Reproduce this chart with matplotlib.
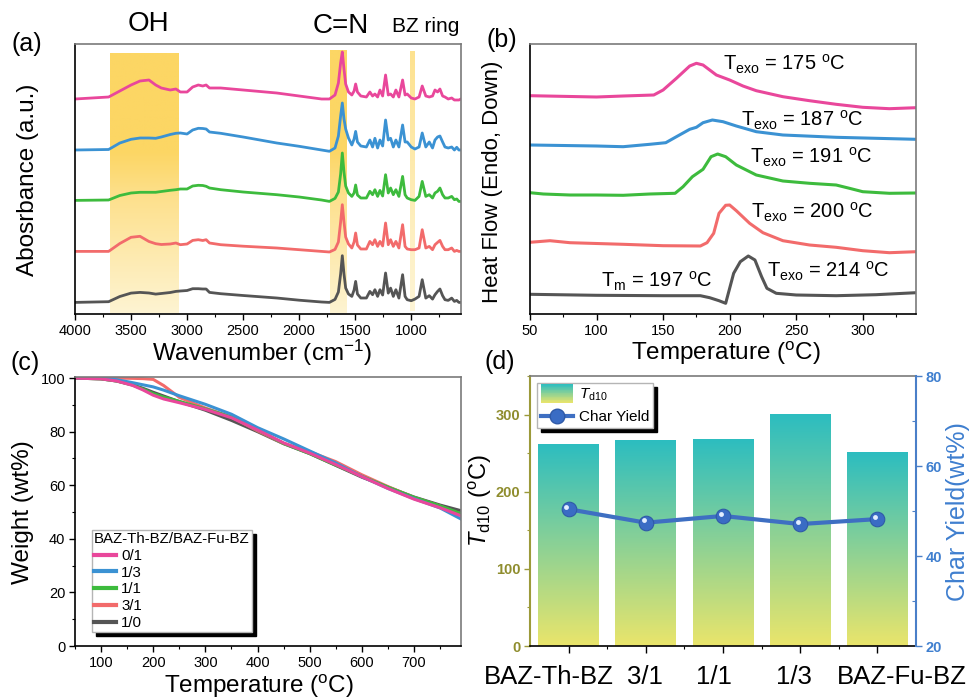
import numpy as np
import matplotlib
matplotlib.use('Agg')
import matplotlib.pyplot as plt
from matplotlib.colors import LinearSegmentedColormap
from matplotlib.patches import Rectangle
from matplotlib.legend_handler import HandlerBase
from matplotlib.lines import Line2D
import matplotlib.transforms as mtransforms
from matplotlib.ticker import MultipleLocator, FixedLocator

plt.rcParams['font.family'] = ['Liberation Sans', 'DejaVu Sans']
plt.rcParams['mathtext.fontset'] = 'custom'
plt.rcParams['mathtext.rm'] = 'Liberation Sans'
plt.rcParams['mathtext.it'] = 'Liberation Sans:italic'
plt.rcParams['mathtext.bf'] = 'Liberation Sans:bold'

# ---------------- (a) FTIR ----------------
wavenumber = [4000, 3700, 3600, 3500, 3420, 3340, 3280, 3230, 3150, 3100,
              3060, 3000, 2950, 2900, 2860, 2830, 2800, 2700, 2500, 2200,
              2000, 1800, 1730, 1680, 1650, 1630, 1615, 1600, 1585, 1560,
              1530, 1510, 1496, 1480, 1450, 1400, 1369, 1345, 1324, 1300,
              1279, 1255, 1229, 1205, 1184, 1160, 1137, 1110, 1077, 1055,
              1036, 1000, 967, 930, 902, 870, 839, 810, 788, 765,
              744, 720, 699, 670, 639, 615, 594, 575, 556]
ftir_01 = [215, 217, 223, 229, 233, 234, 229, 226, 224, 225,
           222, 222, 227, 229, 228, 229, 226, 226, 224, 221,
           218, 215, 215, 219, 231, 251, 262, 245, 230, 222,
           219, 223, 230, 222, 218, 217, 222, 218, 220, 217,
           224, 218, 239, 219, 220, 217, 224, 217, 234, 219,
           220, 216, 215, 217, 228, 218, 217, 218, 224, 222,
           225, 218, 217, 215, 216, 214, 214, 214, 215]
ftir_13 = [164, 164.5, 171, 174.7, 176, 176, 175.7, 177, 179.5, 180.7,
           181, 180, 184, 185.7, 185.5, 185, 182, 180.7, 177, 171,
           167.7, 164, 162.7, 166, 178, 198, 211, 195, 185, 176,
           169, 175, 182.6, 172, 168, 167, 174, 167, 175.7, 166,
           174, 168, 194, 174, 175.7, 167, 174, 167, 189, 172,
           172, 167, 165, 167, 181, 167, 172, 166, 174, 177,
           178, 172, 167, 166, 167, 164, 166.7, 164, 164]
ftir_11 = [113.6, 114, 118.5, 121, 121.7, 121.7, 121.7, 122.5, 123.7, 124.3,
           125, 125, 128, 128.7, 128.5, 127.7, 126, 124.3, 122, 119.3,
           117, 114, 112.6, 115.6, 122, 140, 161, 142, 128, 121,
           117.6, 121, 129, 119, 116, 116, 122.7, 119.3, 124.3, 117.6,
           123.6, 118, 139.3, 121, 126, 119.3, 124.3, 117.6, 137.6, 119.3,
           116, 114.3, 113.6, 117.6, 132.6, 117.6, 119.3, 116, 121, 122.7,
           126, 119.3, 116, 116, 117.6, 114.3, 115, 112.6, 112.6]
ftir_31 = [62.6, 62.6, 70.5, 76.7, 77.7, 72.5, 70.3, 69.5, 70, 71,
           69.3, 70, 73.6, 74.3, 73.5, 74.3, 71, 69.3, 67.8, 66,
           64.3, 62.6, 62, 64.6, 72, 92, 109.3, 92, 77, 70,
           66, 72, 81, 69, 65, 65, 72.6, 69.3, 74.3, 67.6,
           72.6, 68, 91, 69.3, 74.3, 67.6, 72.6, 66, 89.3, 67.6,
           65, 64.3, 64.3, 66, 84.3, 66, 67.6, 64.3, 69.3, 71.6,
           73.6, 67.6, 64.3, 64.3, 66, 62.6, 63.6, 62.6, 62.6]
ftir_10 = [11.6, 12.3, 17.5, 20.9, 21.6, 21, 19.9, 20.5, 21.5, 22.6,
           23, 23.5, 25.3, 25.3, 25, 25, 21.6, 20.3, 18.5, 16,
           13.8, 12, 11.6, 14.6, 22, 40, 58.3, 40, 26, 20,
           17.6, 24, 32.6, 20, 16, 16, 22.6, 19.3, 24.3, 17.6,
           24.3, 19, 41, 20.9, 25.9, 17.6, 24.3, 15.9, 39.3, 17.6,
           14.3, 13.3, 14.9, 17.6, 34.3, 15.9, 18.3, 14.9, 19.3, 22.6,
           25, 18.3, 14.3, 13.6, 15.9, 12.6, 13.6, 11.6, 11.6]

# ---------------- (b) DSC ----------------
dsc01_T = [50, 100, 120, 143, 150, 160, 170, 175, 180, 190, 200, 210, 220, 240, 260, 280, 300, 320, 340]
dsc01_v = [218.3, 217, 218, 219, 224, 235.7, 248, 250.7, 249, 239, 234, 228, 223.3, 217.3, 213.3, 209.7, 206.7, 205.3, 206.3]
dsc13_T = [50, 100, 120, 140, 152, 160, 170, 175, 180, 187, 195, 205, 220, 240, 280, 340]
dsc13_v = [169, 168, 167.3, 169.7, 171.3, 177.3, 184.7, 186.7, 191.3, 194, 192.3, 188, 182.3, 179, 176.7, 174.7]
dsc11_T = [50, 60, 80, 100, 120, 140, 159, 165, 172, 180, 186, 191, 197, 205, 220, 240, 260, 280, 290, 300, 320, 340]
dsc11_v = [121.3, 120, 119, 119, 118.7, 120, 120.7, 127.3, 137.3, 144.7, 157.3, 160, 157.3, 149, 139, 133, 130.7, 129, 125.7, 122.3, 120.7, 121]
dsc31_T = [50, 65, 80, 120, 150, 178, 183, 188, 192, 197, 200, 205, 215, 225, 240, 260, 280, 300, 320, 340]
dsc31_v = [71.7, 73.3, 71.3, 69.7, 68.3, 68, 71.3, 80.7, 100.7, 108.7, 109, 103.3, 90.7, 81.3, 73.3, 69, 66.7, 63.3, 61.3, 62.3]
dsc10_T = [50, 100, 150, 178, 185, 192, 197, 199, 203, 208, 214, 219, 224, 228, 235, 250, 280, 310, 340]
dsc10_v = [19.7, 18.7, 18.3, 18.3, 16.3, 13.3, 10.7, 20.7, 40.7, 52.3, 58, 54, 37.3, 25.7, 20.7, 19, 18.3, 19.3, 21.3]
dsc_labels = [r"$\mathrm{T_{exo}}$ = 175 $^{\mathrm{o}}$C", r"$\mathrm{T_{exo}}$ = 187 $^{\mathrm{o}}$C",
              r"$\mathrm{T_{exo}}$ = 191 $^{\mathrm{o}}$C", r"$\mathrm{T_{exo}}$ = 200 $^{\mathrm{o}}$C",
              r"$\mathrm{T_{m}}$ = 197 $^{\mathrm{o}}$C", r"$\mathrm{T_{exo}}$ = 214 $^{\mathrm{o}}$C"]
dsc_label_x = [195, 208.5, 215, 216, 103.5, 228]
dsc_label_y = [244, 188, 151, 96, 27, 36.3]

# ---------------- (c) TGA ----------------
tga_T = [50, 100, 130, 160, 180, 200, 220, 250, 300, 350, 400, 450, 500, 550, 600, 650, 700, 750, 790]
tga_01 = [100, 99.7, 98.9, 97.3, 95.6, 93.6, 92.2, 90.8, 88.3, 85.2, 80.6, 75.8, 72.0, 67.7, 63.2, 58.8, 54.8, 51.6, 48.6]
tga_13 = [100.1, 100.0, 99.4, 98.3, 97.5, 96.7, 95.5, 93.4, 90.2, 86.5, 81.5, 77.3, 72.8, 68.3, 63.2, 58.8, 55.0, 51.5, 47.4]
tga_11 = [100, 99.7, 98.9, 97.4, 95.9, 94.2, 92.9, 91.3, 88.5, 85.5, 80.6, 75.6, 71.8, 67.5, 63.3, 59.3, 55.5, 52.3, 49.4]
tga_31 = [100, 100, 100, 99.9, 99.8, 99.5, 97.2, 92.8, 88.8, 85.5, 80.3, 75.6, 72.5, 68.8, 63.9, 59.5, 55.4, 52.2, 49.0]
tga_10 = [100, 99.7, 98.9, 97.5, 96.2, 94.7, 93.3, 91.2, 88.0, 84.2, 80.0, 75.5, 71.8, 67.4, 63.0, 59.3, 55.6, 52.6, 50.5]
ratio_labels = ['0/1', '1/3', '1/1', '3/1', '1/0']

# ---------------- (d) Td10 / char yield ----------------
categories = ['BAZ-Th-BZ', '3/1', '1/1', '1/3', 'BAZ-Fu-BZ']
td10 = [262, 267, 268.5, 300.5, 251]
char_yield = [50.4, 47.4, 48.9, 47.1, 48.2]

# ---------------- styles ----------------
c_pink, c_blue, c_green, c_red, c_gray = '#e9479b', '#3b92d3', '#3dbb3d', '#f26b6b', '#555555'
TICK_FS = 10.5
LAB_FS = 17.5
W, H = 974, 700

fig = plt.figure(figsize=(9.74, 7.0), dpi=100)


def px_axes(left, top, right, bottom):
    return fig.add_axes([left / W, 1 - bottom / H, (right - left) / W, (bottom - top) / H])


def style_frame(ax):
    for s in ['left', 'bottom']:
        ax.spines[s].set_color('black')
        ax.spines[s].set_linewidth(1.2)
    for s in ['top', 'right']:
        ax.spines[s].set_color('#7a7a7a')
        ax.spines[s].set_linewidth(1.2)
    ax.tick_params(which='major', direction='out', length=4, width=1, labelsize=TICK_FS, pad=3)
    ax.tick_params(which='minor', direction='out', length=2.2, width=0.8)


def set_label_center(ax, axis, x, y):
    lab = ax.yaxis.label if axis == 'y' else ax.xaxis.label
    if axis == 'y':
        ax.yaxis.set_label_coords(x, y)
    else:
        ax.xaxis.set_label_coords(x, y)
    lab.set_verticalalignment('center')


# ============ (a) ============
axa = px_axes(75, 44, 461, 314)
band_cmap = LinearSegmentedColormap.from_list(
    'band', [(0, '#fef4d2'), (0.45, '#fde08c'), (0.62, '#fcd664'), (1, '#fcd664')])
bz_cmap = LinearSegmentedColormap.from_list('bz', [(0, '#fef5d6'), (1, '#fde28f')])
grad = np.linspace(0, 1, 256).reshape(-1, 1)
axa.imshow(grad, cmap=band_cmap, origin='lower', extent=(3690, 3075, 1.3, 261), aspect='auto', zorder=0)
axa.imshow(grad, cmap=band_cmap, origin='lower', extent=(1726, 1583, 1.0, 264), aspect='auto', zorder=0)
axa.imshow(grad, cmap=bz_cmap, origin='lower', extent=(1012, 976, 3.0, 263), aspect='auto', zorder=0)
for vals, col in [(ftir_10, c_gray), (ftir_31, c_red), (ftir_11, c_green), (ftir_13, c_blue), (ftir_01, c_pink)]:
    axa.plot(wavenumber, vals, color=col, lw=2.0, zorder=2)
axa.set_xlim(4000, 556)
axa.set_ylim(0, 270)
axa.set_yticks([])
axa.xaxis.set_major_locator(MultipleLocator(500))
axa.xaxis.set_minor_locator(MultipleLocator(250))
style_frame(axa)
axa.set_ylabel('Abosrbance (a.u.)', fontsize=LAB_FS)
set_label_center(axa, 'y', -0.122, 0.496)
axa.set_xlabel(r'Wavenumber (cm$^{\mathrm{-1}}$)', fontsize=LAB_FS)
set_label_center(axa, 'x', 0.484, -0.145)

fig.text(148 / W, 1 - 24 / H, 'OH', fontsize=20, ha='center', va='center')
fig.text(341 / W, 1 - 26 / H, 'C=N', fontsize=20, ha='center', va='center')
fig.text(426 / W, 1 - 26 / H, 'BZ ring', fontsize=15, ha='center', va='center')

# ============ (b) ============
axb = px_axes(530, 44, 916, 314)
for T, v, col in [(dsc01_T, dsc01_v, c_pink), (dsc13_T, dsc13_v, c_blue), (dsc11_T, dsc11_v, c_green),
                  (dsc31_T, dsc31_v, c_red), (dsc10_T, dsc10_v, c_gray)]:
    axb.plot(T, v, color=col, lw=2.2)
for s, xx, yy in zip(dsc_labels, dsc_label_x, dsc_label_y):
    axb.text(xx, yy, s, fontsize=14.5, ha='left', va='baseline')
axb.set_xlim(50, 340)
axb.set_ylim(0, 270)
axb.set_yticks([])
axb.xaxis.set_major_locator(MultipleLocator(50))
axb.xaxis.set_minor_locator(MultipleLocator(25))
style_frame(axb)
axb.set_ylabel('Heat Flow (Endo, Down)', fontsize=16)
set_label_center(axb, 'y', -0.098, 0.49)
axb.set_xlabel(r'Temperature ($^{\mathrm{o}}$C)', fontsize=LAB_FS)
set_label_center(axb, 'x', 0.507, -0.145)

# ============ (c) ============
axc = px_axes(75, 377, 461, 646)
series_c = [tga_01, tga_13, tga_11, tga_31, tga_10]
cols_c = [c_pink, c_blue, c_green, c_red, c_gray]
for i in [4, 3, 2, 1, 0]:
    axc.plot(tga_T, series_c[i], color=cols_c[i], lw=2.2)
axc.set_xlim(50, 790)
axc.set_ylim(0, 100.4)
axc.xaxis.set_major_locator(MultipleLocator(100))
axc.xaxis.set_minor_locator(MultipleLocator(50))
axc.yaxis.set_major_locator(MultipleLocator(20))
axc.yaxis.set_minor_locator(MultipleLocator(10))
style_frame(axc)
axc.set_ylabel('Weight (wt%)', fontsize=LAB_FS)
set_label_center(axc, 'y', -0.135, 0.499)
axc.set_xlabel(r'Temperature ($^{\mathrm{o}}$C)', fontsize=LAB_FS)
set_label_center(axc, 'x', 0.477, -0.152)
leg_handles = [Line2D([], [], color=cols_c[i], lw=3) for i in range(5)]
legc = axc.legend(leg_handles, ratio_labels, title='BAZ-Th-BZ/BAZ-Fu-BZ', loc='upper left',
                  bbox_to_anchor=(0.044, 0.431), borderaxespad=0, fontsize=10.8, title_fontsize=10.8,
                  alignment='left', frameon=True, fancybox=False, edgecolor='#b5b5b5', framealpha=1,
                  shadow={'ox': 3, 'oy': -3, 'color': 'black', 'alpha': 1},
                  handlelength=1.45, handletextpad=0.35, labelspacing=0.18, borderpad=0.15)
legc.get_frame().set_linewidth(1.0)

# ============ (d) ============
bar_cmap = LinearSegmentedColormap.from_list('tg', ['#eae56b', '#2cbdc0'])
axd = px_axes(530, 376, 916, 646)
xpos = np.arange(len(categories))
bars = axd.bar(xpos, td10, width=0.79, color='none', edgecolor='none', zorder=1)
for b in bars:
    x0, w, h = b.get_x(), b.get_width(), b.get_height()
    im = axd.imshow(grad, cmap=bar_cmap, origin='lower', extent=(x0, x0 + w, 0, h),
                    aspect='auto', zorder=1, interpolation='bilinear')
    im.set_clip_path(b)
axd.set_xlim(-0.5, 4.5)
axd.set_ylim(0, 350)
olive = '#9c9a3a'
olive_txt = '#8f8d2e'
blue_ax = '#4a7fc8'
axd.set_xticks(xpos, labels=categories, fontsize=18.5)
axd.xaxis.set_minor_locator(FixedLocator(xpos[:-1] + 0.5))
axd.set_yticks([0, 100, 200, 300], labels=['0', '100', '200', '300'], fontweight='bold',
               color=olive_txt, fontsize=TICK_FS)
axd.yaxis.set_minor_locator(MultipleLocator(50))
axd.tick_params(axis='x', which='major', direction='out', length=5, width=1, pad=9)
axd.tick_params(axis='x', which='minor', direction='out', length=2.5, width=0.8)
axd.tick_params(axis='y', which='major', direction='out', length=4, width=1, color=olive, pad=3)
axd.tick_params(axis='y', which='minor', direction='out', length=2.2, width=0.8, color=olive)
axd.spines['left'].set_color(olive)
axd.spines['left'].set_linewidth(1.5)
axd.spines['bottom'].set_color('black')
axd.spines['bottom'].set_linewidth(1.2)
axd.spines['top'].set_color('#7a7a7a')
axd.spines['top'].set_linewidth(1.2)
axd.spines['right'].set_visible(False)
shifts = [-0.2, -0.01, -0.09, -0.06, 0.24]
for lab, dx in zip(axd.get_xticklabels(), shifts):
    lab.set_transform(lab.get_transform() + mtransforms.ScaledTranslation(dx, 0, fig.dpi_scale_trans))
axd.set_ylabel(r'$T_{\mathrm{d10}}$ ($^{\mathrm{o}}$C)', fontsize=17)
set_label_center(axd, 'y', -0.128, 0.54)

ax2 = axd.twinx()
ax2.set_ylim(20, 80)
line_col = '#3e6fc2'
ax2.plot(xpos, char_yield, color=line_col, lw=3, marker='o', ms=10.5, mfc='#3a6cc4', mec='#2f5aa8',
         mew=0.8, zorder=3)
hl = mtransforms.offset_copy(ax2.transData, fig=fig, x=-1.6, y=1.6, units='points')
ax2.plot(xpos, char_yield, ls='none', marker='o', ms=3.5, mfc='#e3eeff', mec='none', transform=hl, zorder=4)
ax2.set_yticks([20, 40, 60, 80], labels=['20', '40', '60', '80'], fontweight='bold', color='#3f7fcf',
               fontsize=TICK_FS)
ax2.yaxis.set_minor_locator(MultipleLocator(10))
ax2.tick_params(axis='y', which='major', direction='out', length=4, width=1, color=blue_ax, pad=3)
ax2.tick_params(axis='y', which='minor', direction='in', length=3, width=0.8, color=blue_ax)
for s in ['left', 'top', 'bottom']:
    ax2.spines[s].set_visible(False)
ax2.spines['right'].set_color(blue_ax)
ax2.spines['right'].set_linewidth(1.5)
ax2.set_ylabel('Char Yield(wt%)', fontsize=18, color='#3f7fcf', rotation=90)
ax2.yaxis.set_label_coords(1.109, 0.497)
ax2.yaxis.label.set_verticalalignment('center')
ax2.yaxis.label.set_rotation_mode('anchor')


class GradHandler(HandlerBase):
    def create_artists(self, legend, orig_handle, xdescent, ydescent, width, height, fontsize, trans):
        n = 24
        y0 = -ydescent - 0.35 * height
        hh = height * 1.7
        arts = []
        for i in range(n):
            r = Rectangle((-xdescent, y0 + i * hh / n), width, hh / n * 1.05,
                          facecolor=bar_cmap((i + 0.5) / n), edgecolor='none', transform=trans)
            arts.append(r)
        return arts


grad_proxy = Rectangle((0, 0), 1, 1)
line_proxy = Line2D([], [], color=line_col, lw=3, marker='o', ms=10.5, mfc='#3a6cc4', mec='#2f5aa8')
legd = ax2.legend([grad_proxy, line_proxy], [r'$T_{\mathrm{d10}}$', 'Char Yield'],
                  handler_map={grad_proxy: GradHandler()}, loc='upper left', bbox_to_anchor=(0.018, 0.974),
                  borderaxespad=0, fontsize=11, frameon=True, fancybox=False, edgecolor='#b5b5b5',
                  framealpha=1, shadow={'ox': 3, 'oy': -3, 'color': 'black', 'alpha': 1},
                  handlelength=2.1, handletextpad=0.4, labelspacing=0.45, borderpad=0.25)
legd.get_frame().set_linewidth(1.0)

# panel letters
for t, x, y in [('(a)', 27, 44), ('(b)', 502, 40), ('(c)', 25, 363), ('(d)', 500, 362)]:
    fig.text(x / W, 1 - y / H, t, fontsize=18, ha='center', va='center')

fig.savefig('out.png', dpi=100)
